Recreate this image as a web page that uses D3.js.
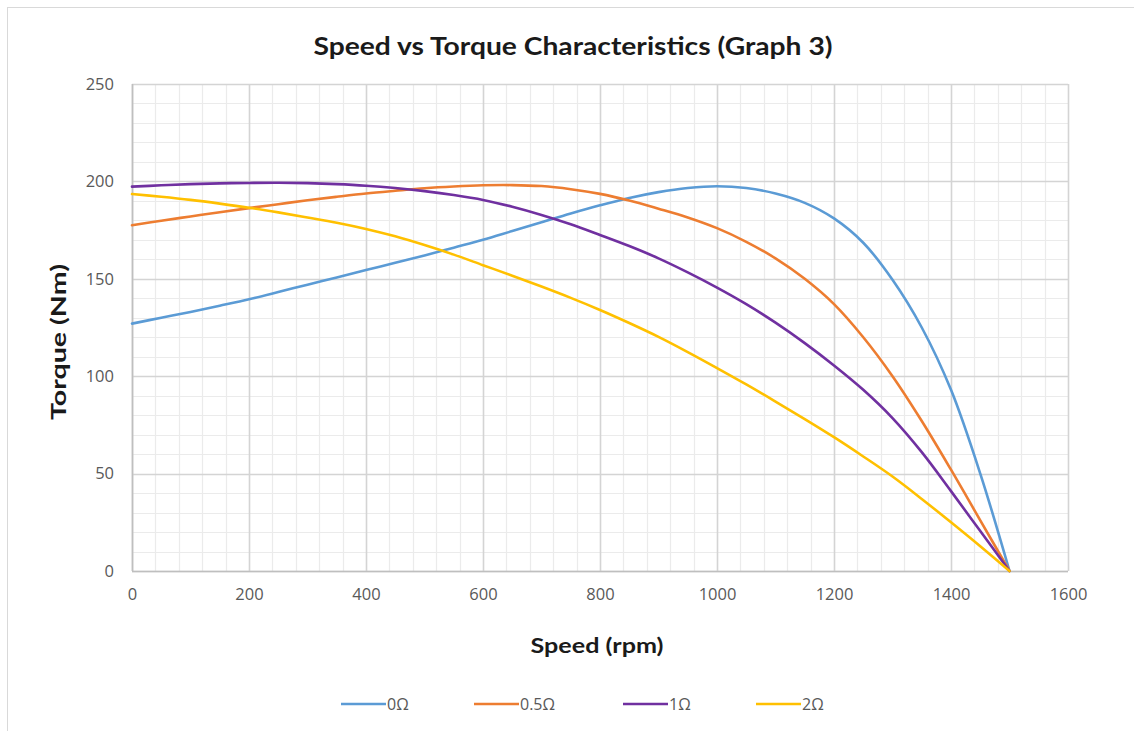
<!DOCTYPE html>
<html><head><meta charset="utf-8">
<script src="https://cdn.jsdelivr.net/npm/d3@7/dist/d3.min.js"></script>
<style>
html,body{margin:0;padding:0;background:#fff;}
svg{display:block;}
</style></head>
<body>
<svg id="chart" width="1134" height="731"></svg>
<script>
const title = "Speed vs Torque Characteristics (Graph 3)";
const xLabel = "Speed (rpm)";
const yLabel = "Torque (Nm)";
const xTicks = [0,200,400,600,800,1000,1200,1400,1600];
const yTicks = [0,50,100,150,200,250];
const seriesNames = ["0\u03A9","0.5\u03A9","1\u03A9","2\u03A9"];
const seriesColors = ["#5B9BD5","#ED7D31","#7030A0","#FFC000"];

// speed samples (rpm), shared by all series
const speed = [0,50,100,150,200,250,300,350,400,450,500,550,600,650,700,750,800,850,900,950,1000,1050,1100,1150,1200,1250,1300,1350,1400,1450,1500];
// torque (Nm) per rotor resistance
const torque0  = [127,130,133,136.2,139.5,143.2,147,150.7,154.5,158.2,162,166,170,174.5,179,183.5,187.7,191.5,194.5,196.6,197.5,196.6,193.8,189,181,168.5,149.5,125,93,50,0];
const torque05 = [177.5,179.8,182,184.2,186.3,188.3,190.3,192.1,193.8,195.2,196.5,197.4,198,198.1,197.6,196,193.6,190.2,186,181.5,176,169,160.5,150,137,120,100,77,52,26,0];
const torque1  = [197.3,198,198.6,199,199.2,199.3,199.1,198.6,197.8,196.6,195,193,190.5,187,182.8,178,172.5,166.8,160.5,153.3,145.5,137,127.5,117,105.5,93,78.5,61,41,20.5,0];
const torque2  = [193.5,192.1,190.5,188.6,186.5,184.1,181.5,178.8,175.6,171.8,167.3,162.4,157,151.6,146,140.2,134,127.3,120.2,112.4,104.2,95.8,87,78,68.7,58.8,48.5,37,25,12.7,0];

const seriesY = [torque0, torque05, torque1, torque2];

const svg = d3.select("#chart");
// outer chart border
svg.append("rect").attr("x",7.5).attr("y",7.5).attr("width",1200).attr("height",800)
  .attr("fill","#fff").attr("stroke","#d9d9d9").attr("stroke-width",1);

const L=132, R=1068, T=84, B=571;
const x = d3.scaleLinear().domain([0,1600]).range([L,R]);
const y = d3.scaleLinear().domain([0,250]).range([B,T]);

const g = svg.append("g");
// minor grid
const minorX = d3.range(0,1601,40).filter(v=>v%200!==0);
const minorY = d3.range(0,251,10).filter(v=>v%50!==0);
g.selectAll(".mx").data(minorX).join("line")
  .attr("x1",d=>Math.round(x(d))+0.5).attr("x2",d=>Math.round(x(d))+0.5)
  .attr("y1",T).attr("y2",B).attr("stroke","#ebebeb").attr("stroke-width",1.2);
g.selectAll(".my").data(minorY).join("line")
  .attr("y1",d=>Math.round(y(d))+0.5).attr("y2",d=>Math.round(y(d))+0.5)
  .attr("x1",L).attr("x2",R).attr("stroke","#ebebeb").attr("stroke-width",1.2);
// major grid
g.selectAll(".Mx").data(xTicks).join("line")
  .attr("x1",d=>Math.round(x(d))+0.5).attr("x2",d=>Math.round(x(d))+0.5)
  .attr("y1",T).attr("y2",B).attr("stroke","#d4d4d4").attr("stroke-width",1.6);
g.selectAll(".My").data(yTicks).join("line")
  .attr("y1",d=>Math.round(y(d))+0.5).attr("y2",d=>Math.round(y(d))+0.5)
  .attr("x1",L).attr("x2",R).attr("stroke","#d4d4d4").attr("stroke-width",1.6);
// axis lines
g.append("line").attr("x1",L+0.5).attr("x2",L+0.5).attr("y1",T).attr("y2",B).attr("stroke","#bfbfbf").attr("stroke-width",1.6);
g.append("line").attr("x1",L).attr("x2",R).attr("y1",B+0.5).attr("y2",B+0.5).attr("stroke","#bfbfbf").attr("stroke-width",1.6);

// tick labels via d3 axes
const xAxis = svg.append("g").attr("transform",`translate(0,${B})`)
  .call(d3.axisBottom(x).tickValues(xTicks).tickSize(0).tickPadding(17).tickFormat(d3.format("d")));
const yAxis = svg.append("g").attr("transform",`translate(${L},0)`)
  .call(d3.axisLeft(y).tickValues(yTicks).tickSize(0).tickPadding(18).tickFormat(d3.format("d")));
[xAxis,yAxis].forEach(a=>{
  a.select(".domain").remove();
  a.selectAll("text").attr("fill","#595959").style("font-family","'Open Sans', sans-serif").style("font-size","16.5px");
});

// lines
const lineGen = d3.line().curve(d3.curveCatmullRom.alpha(0.5));
seriesY.forEach((ys,i)=>{
  const pts = speed.map((v,j)=>[x(v), y(ys[j])]);
  svg.append("path").attr("d",lineGen(pts)).attr("fill","none")
    .attr("stroke",seriesColors[i]).attr("stroke-width",2.6).attr("stroke-linecap","round");
});

// title
svg.append("text").attr("x",573).attr("y",55).attr("text-anchor","middle")
  .attr("textLength",519).attr("lengthAdjust","spacingAndGlyphs")
  .style("font-family","Lato, sans-serif").style("font-weight","700").style("font-size","25px")
  .attr("fill","#1a1a1a").text(title);
// axis titles
svg.append("text").attr("x",597).attr("y",653).attr("text-anchor","middle")
  .attr("textLength",133).attr("lengthAdjust","spacingAndGlyphs")
  .style("font-family","Lato, sans-serif").style("font-weight","700").style("font-size","20px")
  .attr("fill","#1a1a1a").text(xLabel);
svg.append("text").attr("transform","translate(66,342) rotate(-90)").attr("text-anchor","middle")
  .attr("textLength",156).attr("lengthAdjust","spacingAndGlyphs")
  .style("font-family","Lato, sans-serif").style("font-weight","700").style("font-size","20px")
  .attr("fill","#1a1a1a").text(yLabel);

// legend
const legX = [341,474,623,756];
const leg = svg.append("g");
seriesNames.forEach((n,i)=>{
  leg.append("line").attr("x1",legX[i]).attr("x2",legX[i]+45).attr("y1",704).attr("y2",704)
    .attr("stroke",seriesColors[i]).attr("stroke-width",2.6);
  leg.append("text").attr("x",legX[i]+46).attr("y",710)
    .style("font-family","'Open Sans', sans-serif").style("font-size","16px")
    .attr("fill","#595959").text(n);
});
</script>
</body></html>
